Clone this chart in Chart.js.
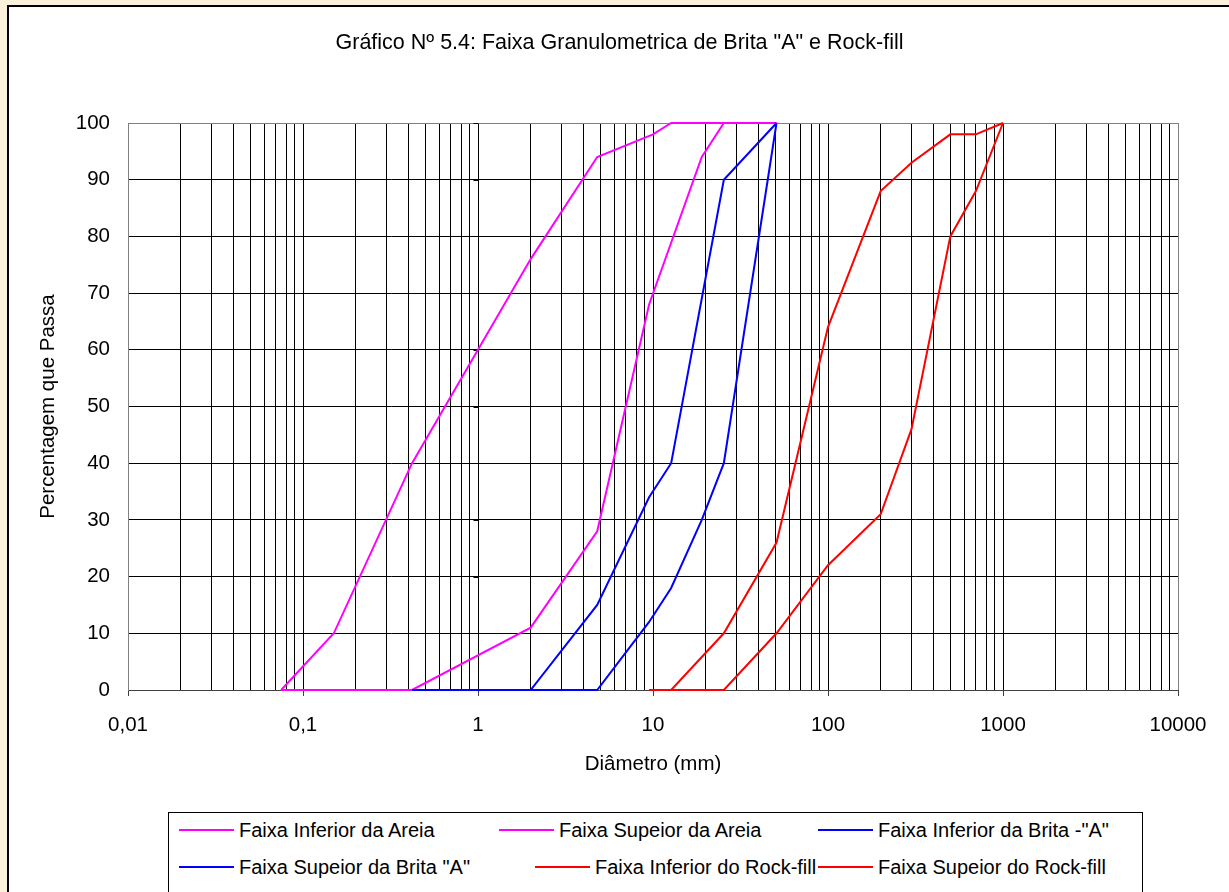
<!DOCTYPE html>
<html>
<head>
<meta charset="utf-8">
<title>Gráfico Nº 5.4</title>
<script src="https://cdn.jsdelivr.net/npm/chart.js@4.4.1/dist/chart.umd.min.js"></script>
<style>
html, body { margin:0; padding:0; }
body {
    width:1229px; height:892px; overflow:hidden; position:relative;
    background:#fbf0d9;
    font-family:"Liberation Sans", Arial, sans-serif;
}
#panel {
    position:absolute; left:7px; top:5px; right:0; bottom:0;
    background:#fff;
    border-left:2px solid #000; border-top:2px solid #000;
}
#chartBox { position:absolute; left:0; top:0; width:1229px; height:892px; }
#legend {
    position:absolute; left:168px; top:812px; width:973px; height:100px;
    border:1px solid #000; background:#fff;
}
.item {
    position:absolute; height:24px; display:flex; align-items:center;
    font-size:20px; color:#000; white-space:nowrap;
}
.item .swatch { display:inline-block; width:55px; height:2px; margin-right:5px; }
</style>
</head>
<body>

<div id="panel"></div>
<div id="chartBox"><canvas id="granChart"></canvas></div>
<div id="legend"></div>

<script>

// ======================
// DATA
// ======================

const seriesNames = [
    "Faixa Inferior da Areia",
    "Faixa Supeior da Areia",
    "Faixa Inferior da Brita -\"A\"",
    "Faixa Supeior da Brita \"A\"",
    "Faixa Inferior do Rock-fill",
    "Faixa Supeior do Rock-fill"
];

// diameters (mm) and % passing for each band
const infAreiaSize = [0.075, 0.15, 0.42, 2.0, 4.8, 10, 12.7, 50.8];
const infAreiaPass = [0, 10, 40, 76, 94, 98, 100, 100];

const supAreiaSize = [0.075, 0.15, 0.42, 2.0, 4.8, 9.5, 19, 25.4, 50.8];
const supAreiaPass = [0, 0, 0, 11, 28, 68, 94, 100, 100];

const infBritaSize = [0.42, 2.0, 4.8, 9.5, 12.7, 25.4, 50.8];
const infBritaPass = [0, 0, 15, 34, 40, 90, 100];

const supBritaSize = [0.42, 2.0, 4.8, 9.5, 12.7, 19, 25.4, 50.8];
const supBritaPass = [0, 0, 0, 12, 18, 30, 40, 100];

const infRockSize = [9.5, 12.7, 25.4, 50.8, 100, 200, 300, 500, 700, 1000];
const infRockPass = [0, 0, 10, 26, 64, 88, 93, 98, 98, 100];

const supRockSize = [9.5, 12.7, 25.4, 50.8, 100, 200, 300, 500, 700, 1000];
const supRockPass = [0, 0, 0, 10, 22, 31, 46, 80, 88, 100];

const xMajorTicks = [0.01, 0.1, 1, 10, 100, 1000, 10000];
const xTickLabels = ["0,01", "0,1", "1", "10", "100", "1000", "10000"];

const yTicks = [0, 10, 20, 30, 40, 50, 60, 70, 80, 90, 100];

// ======================
// HELPERS
// ======================

function toPoints(sizes, pass){
    return sizes.map((s, i) => ({ x: s, y: pass[i] }));
}

// grid lines at 1..9 of every decade
const xGridValues = [];
xMajorTicks.forEach((d, i) => {
    if(i === xMajorTicks.length - 1){
        xGridValues.push(d);
        return;
    }
    for(let k = 1; k <= 9; k++){
        xGridValues.push(parseFloat((d * k).toPrecision(6)));
    }
});

function majorIndex(v){
    return xMajorTicks.findIndex(m => Math.abs(v - m) < m * 1e-6);
}

const FAMILY = "'Liberation Sans', Arial, sans-serif";
const FONT = { family: FAMILY, size: 20.5 };

// ======================
// PLUGINS
// ======================

// Excel puts the vertical axis at x = 1 with small ticks
const crossAxis = {
    id: "crossAxis",
    beforeDatasetsDraw(chart){
        const { ctx, scales } = chart;
        const px = Math.round(scales.x.getPixelForValue(1)) + 0.5;
        ctx.save();
        ctx.strokeStyle = "#000";
        ctx.lineWidth = 1;
        yTicks.forEach(v => {
            const py = Math.round(scales.y.getPixelForValue(v)) + 0.5;
            ctx.beginPath();
            ctx.moveTo(px - 5, py);
            ctx.lineTo(px, py);
            ctx.stroke();
        });
        ctx.restore();
    }
};

// ======================
// CHART
// ======================

const colors = ["#ff00ff", "#ff00ff", "#0000ff", "#0000ff", "#ff0000", "#ff0000"];
const drawOrder = [2, 2, 1, 1, 0, 0];

const pointSets = [
    toPoints(infAreiaSize, infAreiaPass),
    toPoints(supAreiaSize, supAreiaPass),
    toPoints(infBritaSize, infBritaPass),
    toPoints(supBritaSize, supBritaPass),
    toPoints(infRockSize, infRockPass),
    toPoints(supRockSize, supRockPass)
];

const chart = new Chart(
    document.getElementById("granChart"),
    {
        type: "line",
        data: {
            datasets: pointSets.map((pts, i) => ({
                label: seriesNames[i],
                data: pts,
                borderColor: colors[i],
                backgroundColor: colors[i],
                borderWidth: 2,
                pointRadius: 0,
                tension: 0,
                clip: false,
                order: drawOrder[i]
            }))
        },
        options: {
            responsive: true,
            maintainAspectRatio: false,
            animation: false,
            layout: {
                padding: { left: 10, right: 0, top: 0, bottom: 102 }
            },
            plugins: {
                legend: { display: false },
                tooltip: { enabled: false },
                title: {
                    display: true,
                    text: "Gráfico Nº 5.4: Faixa Granulometrica de Brita \"A\" e Rock-fill",
                    color: "#000",
                    font: { family: FAMILY, size: 21.5, weight: "normal" },
                    padding: { top: 30, bottom: 67.2 }
                }
            },
            scales: {
                x: {
                    type: "logarithmic",
                    min: 0.01,
                    max: 10000,
                    afterBuildTicks: (scale) => {
                        scale.ticks = xGridValues.map(v => ({
                            value: v,
                            major: majorIndex(v) >= 0
                        }));
                    },
                    afterFit: (scale) => { scale.height = 100; },
                    ticks: {
                        autoSkip: false,
                        maxRotation: 0,
                        minRotation: 0,
                        color: "#000",
                        font: FONT,
                        padding: 17,
                        callback: (v) => {
                            const i = majorIndex(v);
                            return i >= 0 ? xTickLabels[i] : "";
                        }
                    },
                    grid: {
                        color: (c) => (c.tick && c.tick.value >= 10000) ? "#808080" : "#000",
                        lineWidth: 1,
                        tickLength: 6,
                        tickColor: (c) => (c.tick && majorIndex(c.tick.value) >= 0) ? "#404040" : "rgba(0,0,0,0)"
                    },
                    border: { color: "#404040", width: 1 },
                    title: {
                        display: true,
                        text: "Diâmetro (mm)",
                        color: "#000",
                        font: FONT,
                        padding: { top: 0, bottom: 13 }
                    }
                },
                y: {
                    min: 0,
                    max: 100,
                    afterBuildTicks: (scale) => {
                        scale.ticks = yTicks.map(v => ({ value: v }));
                    },
                    afterFit: (scale) => { scale.width = 118; },
                    ticks: {
                        color: "#000",
                        font: FONT,
                        padding: 18
                    },
                    grid: {
                        color: (c) => (c.tick && c.tick.value === 100) ? "#808080" : "#000",
                        lineWidth: 1,
                        drawTicks: false
                    },
                    border: { color: "#808080", width: 1 },
                    title: {
                        display: true,
                        text: "Percentagem que Passa",
                        color: "#000",
                        font: FONT,
                        padding: { top: 26, bottom: 0 }
                    }
                },
                // empty right-hand box so the plot ends at the same place as the original
                spacer: {
                    position: "right",
                    display: true,
                    grid: { drawOnChartArea: false, drawTicks: false },
                    border: { display: false },
                    ticks: { display: false },
                    afterFit: (scale) => { scale.width = 51; }
                }
            }
        },
        plugins: [crossAxis]
    }
);

// ======================
// LEGEND (boxed, like the original)
// ======================

const legendSpots = [
    [10, 5], [330, 5], [649, 5],
    [10, 42], [366, 42], [649, 42]
];

const legendBox = document.getElementById("legend");

chart.data.datasets.forEach((ds, i) => {
    const item = document.createElement("div");
    item.className = "item";
    item.style.left = legendSpots[i][0] + "px";
    item.style.top = legendSpots[i][1] + "px";

    const sw = document.createElement("span");
    sw.className = "swatch";
    sw.style.background = ds.borderColor;

    const txt = document.createElement("span");
    txt.textContent = ds.label;

    item.appendChild(sw);
    item.appendChild(txt);
    legendBox.appendChild(item);
});

</script>
</body>
</html>
